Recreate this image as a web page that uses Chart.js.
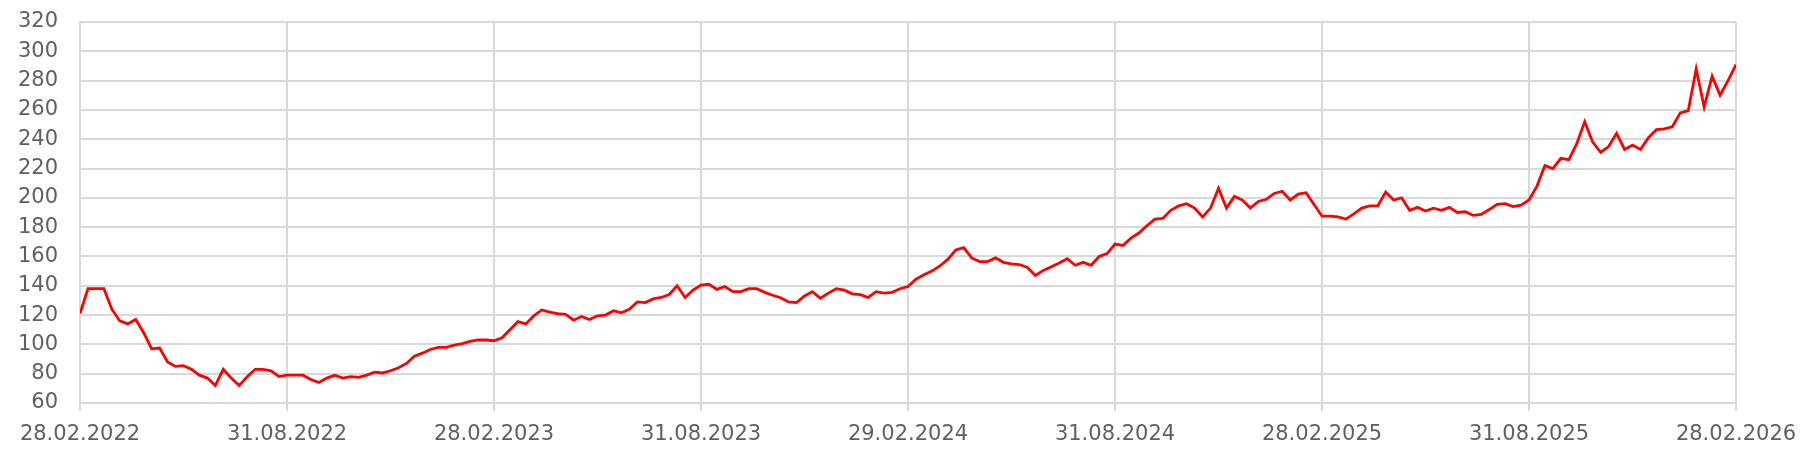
<!DOCTYPE html>
<html>
<head>
<meta charset="utf-8">
<script src="https://cdn.jsdelivr.net/npm/chart.js"></script>
<style>
  body { margin: 0; background: #fff; }
  #wrap { width: 1811px; height: 452px; }
</style>
</head>
<body>
<div id="wrap"><canvas id="lineChart"></canvas></div>
<script>
// tick labels on the x axis (every 26 weeks)
const dateLabels = ["28.02.2022","31.08.2022","28.02.2023","31.08.2023","29.02.2024","31.08.2024","28.02.2025","31.08.2025","28.02.2026"];

// weekly values, 28.02.2022 -> 28.02.2026
const values = [
  121,138,138,138,124,116,114,117,108,97,97.5,88,85,85.5,83,79,77,72,83,77,
  72,78,83,83,82,78,79,79,79,76,74,77,79,77,78,77.5,79,81,80.5,82,
  84,87,92,94,96.5,98,98,99.5,100.5,102,103,103,102.5,104.5,110,115.5,114,119.5,123.5,122,
  121,120.5,116.5,119,117,119.5,120,123,121.5,124,129,128.5,131,132,134,140,132,137,140.5,141,
  137.5,139.5,136,136,138,138,135.5,133.5,131.8,129,128.5,133,136,131.5,135,138,137,134.5,134,132,
  136,135,135.5,138,139.5,144.5,147.5,150,153.5,158,164.5,166,159,156.5,156.5,159,156,155,154.5,152.5,
  147,150.5,153,155.5,158.5,154,156,154,160,162,168.5,167.5,172.5,176,181,185.5,186,191.5,194.5,196,
  193,187,193,206.5,193,201,198.5,193,197.5,199,203,204.5,198.5,202.5,203.5,195.5,187.5,187.5,187,185.5,
  189,193,194.5,194.5,204,198.5,200,191.5,193.5,191,193,191.5,193.5,190,190.5,188,188.7,192,195.5,196,
  194,195,198.5,208,222,220,227,226,237,252,238,231,235,244,233,236,233,241,246.5,247,
  248.5,258,259.5,288,262,283,270,280,291
];

const yMin = 60, yMax = 320, yStep = 20;
const weeksPerTick = 26;

const points = values.map((v, i) => ({ x: i, y: v }));

Chart.defaults.font.family = "DejaVu Sans";
Chart.defaults.font.size = 21;
Chart.defaults.color = "#5f5f5f";

new Chart(document.getElementById("lineChart"), {
  type: "line",
  data: {
    datasets: [{
      data: points,
      borderColor: "#ff0000",
      borderWidth: 2.8,
      pointRadius: 0,
      tension: 0,
      fill: false
    }]
  },
  options: {
    responsive: true,
    maintainAspectRatio: false,
    animation: false,
    layout: { padding: { top: 22, right: 75, left: 0, bottom: 0 } },
    plugins: { legend: { display: false }, tooltip: { enabled: false } },
    scales: {
      x: {
        type: "linear",
        min: 0,
        max: values.length - 1,
        afterBuildTicks: axis => {
          axis.ticks = dateLabels.map((_, i) => ({ value: i * weeksPerTick }));
        },
        afterFit: axis => {
          axis.height = 49;
          axis.paddingLeft = 0;
          axis.paddingRight = 0;
        },
        ticks: {
          maxRotation: 0,
          autoSkip: false,
          padding: 11,
          callback: v => dateLabels[v / weeksPerTick]
        },
        grid: { color: "#d9d9d9", lineWidth: 2, tickLength: 8 },
        border: { color: "#d9d9d9", width: 2 }
      },
      y: {
        min: yMin,
        max: yMax,
        afterFit: axis => {
          axis.width = 80;
          axis.paddingTop = 0;
          axis.paddingBottom = 0;
        },
        ticks: { stepSize: yStep, padding: 22 },
        grid: { color: "#d9d9d9", lineWidth: 2, drawTicks: false },
        border: { color: "#d9d9d9", width: 2 }
      }
    }
  }
});
</script>
</body>
</html>
